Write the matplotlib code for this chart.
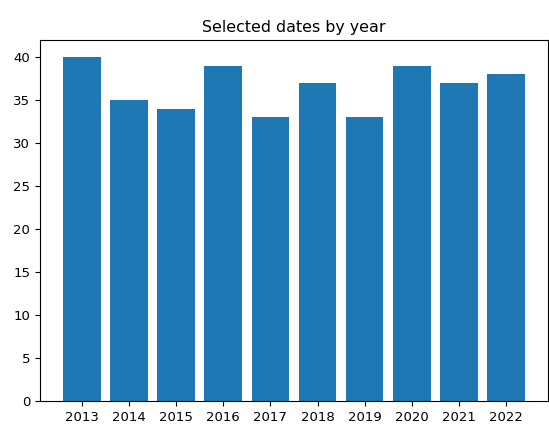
import matplotlib
matplotlib.use('Agg')
import matplotlib.pyplot as plt

years = ['2013', '2014', '2015', '2016', '2017', '2018', '2019', '2020', '2021', '2022']
counts = [40, 35, 34, 39, 33, 37, 33, 39, 37, 38]


def plot_counts():
    plt.rcParams['font.size'] = 9.5
    fig = plt.figure(figsize=(5.49, 4.29), dpi=100)
    ax = fig.add_axes([0.073, 0.065, 0.925, 0.842])
    ax.bar(years, counts, color='#1f77b4')
    ax.set_title('Selected dates by year', fontsize=11.4)
    ax.set_yticks(range(0, 41, 5))
    fig.savefig('out.png', dpi=100)


if __name__ == "__main__":
    plot_counts()
